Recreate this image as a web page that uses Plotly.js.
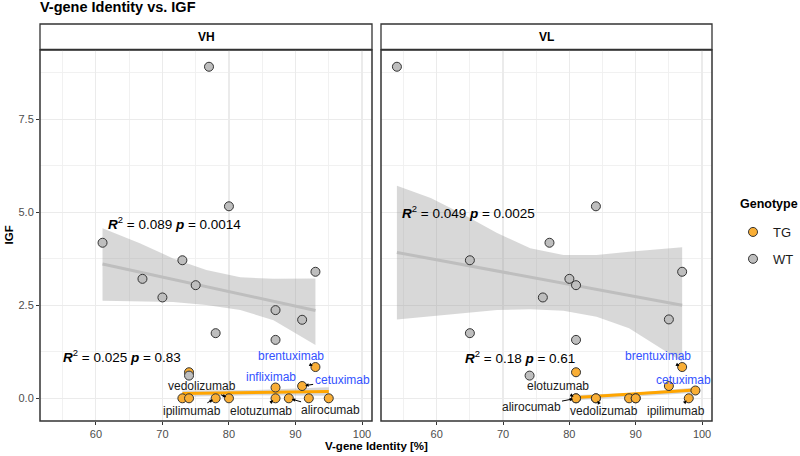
<!DOCTYPE html>
<html>
<head>
<meta charset="utf-8">
<script src="https://cdn.plot.ly/plotly-3.0.1.min.js"></script>
<style>
  body { margin: 0; background: #fff; }
  #chart { width: 800px; height: 456px; }
</style>
</head>
<body>
<div id="chart"></div>
<script>
// values
var vhWTx = [77, 80, 61, 73, 67, 75, 70, 87, 91, 93, 78, 87, 74];
var vhWTy = [8.91, 5.16, 4.18, 3.71, 3.21, 3.04, 2.71, 2.37, 2.11, 3.40, 1.75, 1.57, 0.61];
var vlWTx = [54, 84, 77, 65, 80, 81, 76, 97, 95, 65, 81, 74];
var vlWTy = [8.91, 5.16, 4.18, 3.71, 3.21, 3.04, 2.71, 3.40, 2.12, 1.75, 1.57, 0.61];

var vhTGx = [74, 93, 87, 91, 73, 74, 78, 80, 87, 89, 92, 95];
var vhTGy = [0.70, 0.84, 0.29, 0.33, 0, 0, 0, 0, 0, 0, 0, 0];
var vlTGx = [81, 97, 95, 99, 81, 81, 84, 84, 89, 90, 90, 98];
var vlTGy = [0.70, 0.84, 0.33, 0.21, 0, 0, 0, 0, 0, 0, 0, 0];

// fitted lines + confidence bands
var vhWTfitX = [61, 93], vhWTfitY = [3.61, 2.36];
var vlWTfitX = [54, 97], vlWTfitY = [3.92, 2.50];
var vhTGfitX = [73, 95], vhTGfitY = [0.13, 0.18];
var vlTGfitX = [81, 99], vlTGfitY = [0.02, 0.22];

var vhWTbandX = [61, 66.6, 71.6, 76.6, 81.7, 86.7, 93];
var vhWTbandHi = [4.57, 4.17, 3.76, 3.45, 3.25, 3.21, 3.22];
var vhWTbandLo = [2.62, 2.61, 2.59, 2.51, 2.37, 2.10, 1.43];
var vlWTbandX = [54, 59.1, 64.1, 69.1, 74.1, 79.1, 84.1, 89, 97];
var vlWTbandHi = [5.71, 5.38, 4.93, 4.44, 4.03, 3.85, 3.85, 3.94, 4.06];
var vlWTbandLo = [2.12, 2.21, 2.30, 2.37, 2.39, 2.35, 2.19, 1.88, 0.98];
var vhTGbandX = [73, 84, 95], vhTGbandHi = [0.21, 0.22, 0.30], vhTGbandLo = [0.04, 0.08, 0.07];
var vlTGbandX = [81, 90, 99], vlTGbandHi = [0.09, 0.15, 0.29], vlTGbandLo = [-0.05, 0.06, 0.15];

var ticksX = [60, 70, 80, 90, 100];
var ticksY = [0, 2.5, 5, 7.5];
var tickTextY = ["0.0", "2.5", "5.0", "7.5"];

// antibody labels: name, panel, x, y, highlighted
var labNames = ["brentuximab", "infliximab", "cetuximab", "vedolizumab", "ipilimumab", "elotuzumab", "alirocumab",
                "brentuximab", "cetuximab", "elotuzumab", "alirocumab", "vedolizumab", "ipilimumab"];
var labPanel = ["VH", "VH", "VH", "VH", "VH", "VH", "VH", "VL", "VL", "VL", "VL", "VL", "VL"];
var labX = [93, 87, 91, 80, 78, 87, 89, 97, 95, 81, 81, 84, 98];
var labY = [0.84, 0.29, 0.33, 0, 0, 0, 0, 0.84, 0.33, 0, 0, 0, 0];
var labBlue = [true, true, true, false, false, false, false, true, true, false, false, false, false];

var statPanel = ["VH", "VH", "VL", "VL"];
var statR2 = ["0.089", "0.025", "0.049", "0.18"];
var statP = ["0.0014", "0.83", "0.0025", "0.61"];
var statX = [61.5, 54.7, 54.5, 64.0];
var statY = [4.71, 1.14, 5.0, 1.11];

// label offsets in px (text centre relative to point)
var labOff = [[-24, -11], [-5, -11], [40, -6], [-27, -12], [-24, 13], [-15, 13], [42, 12],
              [-24, -11], [15, -6], [-18, -12], [-45, 9], [8, 13], [-13, 13]];

var grey = "#BEBEBE", orange = "#FFA500", orangePt = "#F9AE35";
var font = "Liberation Sans, Arial, sans-serif";

function band(x, lo, hi, xa, col) {
  return [
    {x: x, y: lo, xaxis: xa, mode: "lines", line: {width: 0}, hoverinfo: "skip", showlegend: false},
    {x: x, y: hi, xaxis: xa, mode: "lines", line: {width: 0}, fill: "tonexty",
     fillcolor: col, hoverinfo: "skip", showlegend: false}
  ];
}
function fit(x, y, xa, col) {
  return {x: x, y: y, xaxis: xa, mode: "lines", line: {color: col, width: 3}, showlegend: false};
}
function pts(x, y, xa, fill, name, show) {
  return {x: x, y: y, xaxis: xa, mode: "markers", name: name, legendgroup: name, showlegend: show,
    marker: {size: 9, color: fill, line: {color: "#333333", width: 1}}};
}

var bandCol = "rgba(153,153,153,0.38)";
var data = [].concat(
  band(vhWTbandX, vhWTbandLo, vhWTbandHi, "x", bandCol),
  band(vlWTbandX, vlWTbandLo, vlWTbandHi, "x2", bandCol),
  band(vhTGbandX, vhTGbandLo, vhTGbandHi, "x", bandCol),
  band(vlTGbandX, vlTGbandLo, vlTGbandHi, "x2", bandCol),
  [fit(vhWTfitX, vhWTfitY, "x", grey), fit(vlWTfitX, vlWTfitY, "x2", grey),
   fit(vhTGfitX, vhTGfitY, "x", orange), fit(vlTGfitX, vlTGfitY, "x2", orange),
   pts(vhTGx, vhTGy, "x", orangePt, "TG", true), pts(vlTGx, vlTGy, "x2", orangePt, "TG", false),
   pts(vhWTx, vhWTy, "x", grey, "WT", true), pts(vlWTx, vlWTy, "x2", grey, "WT", false)]
);
data.forEach(function (t) { t.yaxis = t.xaxis == "x2" ? "y2" : "y"; });

var annotations = [];
for (var i = 0; i < labNames.length; i++) {
  var right = labPanel[i] == "VL";
  annotations.push({
    x: labX[i], y: labY[i], xref: right ? "x2" : "x", yref: right ? "y2" : "y", text: labNames[i],
    showarrow: true, ax: labOff[i][0], ay: labOff[i][1], arrowhead: 2, arrowsize: 0.7, arrowwidth: 1,
    arrowcolor: "#000", standoff: 3,
    font: {family: font, size: 12, color: labBlue[i] ? "#3352FF" : "#1a1a1a"}
  });
}
for (var j = 0; j < statR2.length; j++) {
  var r = statPanel[j] == "VL";
  annotations.push({
    x: statX[j], y: statY[j], xref: r ? "x2" : "x", yref: r ? "y2" : "y", xanchor: "left", yanchor: "middle",
    showarrow: false,
    text: "<b><i>R</i></b><sup>2</sup> = " + statR2[j] + " <b><i>p</i></b> = " + statP[j],
    font: {family: font, size: 13.5, color: "#000"}
  });
}
function paperText(px, py, txt, size, extra) {
  return Object.assign({x: px / 800, y: 1 - py / 456, xref: "paper", yref: "paper", xanchor: "center",
    yanchor: "middle", text: txt, showarrow: false, font: {family: font, size: size, color: "#000"}}, extra || {});
}
// strip texts, axis titles, legend title
annotations.push(
  paperText(206, 36.5, "<b>VH</b>", 12),
  paperText(546.5, 36.5, "<b>VL</b>", 12),
  paperText(376, 446, "<b>V-gene Identity [%]</b>", 11.5),
  paperText(8, 235.5, "<b>IGF</b>", 11.5, {textangle: -90}),
  paperText(738, 204, "<b>Genotype</b>", 12.5, {xanchor: "left"})
);

var shapes = [
  {type: "rect", xref: "paper", yref: "paper", x0: 40 / 800, x1: 372 / 800, y0: 1 - 49.5 / 456, y1: 1 - 24 / 456,
   line: {color: "#333", width: 1.3}, fillcolor: "#fff", layer: "below"},
  {type: "rect", xref: "paper", yref: "paper", x0: 381 / 800, x1: 712 / 800, y0: 1 - 49.5 / 456, y1: 1 - 24 / 456,
   line: {color: "#333", width: 1.3}, fillcolor: "#fff", layer: "below"},
  {type: "rect", xref: "paper", yref: "paper", x0: 40 / 800, x1: 372 / 800, y0: 1 - 421 / 456, y1: 1 - 50 / 456,
   line: {color: "#333", width: 1.5}, layer: "above"},
  {type: "rect", xref: "paper", yref: "paper", x0: 381 / 800, x1: 712 / 800, y0: 1 - 421 / 456, y1: 1 - 50 / 456,
   line: {color: "#333", width: 1.5}, layer: "above"}
];

function xaxis(dom, ya) {
  return {domain: dom, range: [51.6, 101.5], tickvals: ticksX, ticks: "outside", ticklen: 3, tickcolor: "#333",
    tickfont: {family: font, size: 11, color: "#4D4D4D"}, showgrid: true, gridcolor: "#EBEBEB", gridwidth: 1.2,
    minor: {dtick: 5, tick0: 55, showgrid: true, gridcolor: "#EFEFEF", gridwidth: 0.9},
    zeroline: false, showline: false, anchor: ya, fixedrange: true};
}
function yaxis(xa, labels) {
  return {domain: [1 - 421 / 456, 1 - 50 / 456], range: [-0.61, 9.36], tickvals: ticksY, ticktext: tickTextY,
    ticks: labels ? "outside" : "", ticklen: 3, tickcolor: "#333", showticklabels: labels,
    tickfont: {family: font, size: 11, color: "#4D4D4D"},
    gridcolor: "#EBEBEB", gridwidth: 1.2,
    minor: {dtick: 1.25, tick0: 0, showgrid: true, gridcolor: "#EFEFEF", gridwidth: 0.9},
    zeroline: false, anchor: xa, fixedrange: true};
}

var layout = {
  width: 800, height: 456,
  margin: {l: 0, r: 0, t: 0, b: 0},
  paper_bgcolor: "#fff", plot_bgcolor: "#fff",
  title: {text: "<b>V-gene Identity vs. IGF</b>", x: 40 / 800, xanchor: "left", xref: "paper",
    y: 1 - 7 / 456, yref: "container", yanchor: "middle", font: {family: font, size: 14.5, color: "#000"}},
  xaxis: xaxis([40 / 800, 372 / 800], "y"),
  xaxis2: xaxis([381 / 800, 712 / 800], "y2"),
  yaxis: yaxis("x", true),
  yaxis2: yaxis("x2", false),
  showlegend: true,
  legend: {x: 733 / 800, xanchor: "left", y: 1 - 217 / 456, yanchor: "top", traceorder: "grouped", tracegroupgap: 7,
    font: {family: font, size: 13, color: "#1a1a1a"}, bgcolor: "rgba(0,0,0,0)"},
  annotations: annotations,
  shapes: shapes
};

Plotly.newPlot("chart", data, layout, {staticPlot: true});
</script>
</body>
</html>
